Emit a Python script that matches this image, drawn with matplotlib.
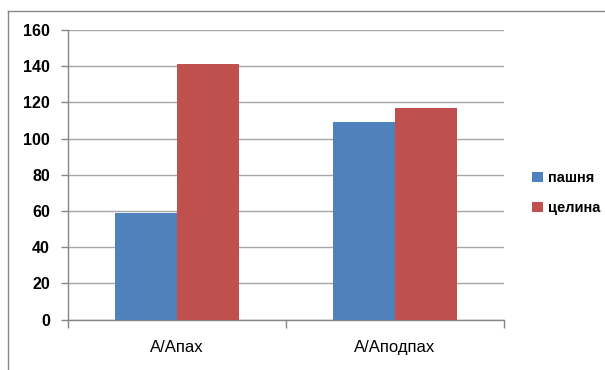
import numpy as np
import matplotlib
matplotlib.use("Agg")
import matplotlib.pyplot as plt
from matplotlib.lines import Line2D
from matplotlib.patches import Patch

plt.rcParams["font.family"] = ["Liberation Sans", "DejaVu Sans"]

categories = ["А/Апах", "А/Аподпах"]
series_names = ["пашня", "целина"]
pashnya = [59, 109]
tselina = [141, 117]
colors = ["#4F81BD", "#C0504D"]
yticks = [0, 20, 40, 60, 80, 100, 120, 140, 160]

W, H = 605, 370
fig = plt.figure(figsize=(W / 100, H / 100), dpi=100)
ax = fig.add_axes([68 / W, 1 - 319.5 / H, (504 - 68) / W, (319.5 - 30) / H])

x = np.arange(len(categories))
bw = 0.286
ax.bar(x - bw / 2, pashnya, bw, color=colors[0], label=series_names[0], zorder=3)
ax.bar(x + bw / 2, tselina, bw, color=colors[1], label=series_names[1], zorder=3)

ax.set_xlim(-0.5, len(categories) - 0.5)
ax.set_ylim(0, 160)
ax.set_yticks(yticks)
ax.set_yticklabels([str(v) for v in yticks], fontweight="bold", fontsize=11.5)
ax.yaxis.grid(True, color="#A6A6A6", lw=1.0, zorder=0)
ax.tick_params(axis="y", length=5, color="#868686", width=1, pad=8)

# category labels sit between boundary tick marks
ax.set_xticks(x)
ax.set_xticklabels(categories, fontsize=12)
ax.tick_params(axis="x", length=0, pad=15)
ax.set_xticks([-0.5, 0.5, 1.5], minor=True)
ax.tick_params(axis="x", which="minor", length=6, color="#868686", width=1)

for side in ("top", "right"):
    ax.spines[side].set_visible(False)
for side in ("left", "bottom"):
    ax.spines[side].set_color("#868686")
    ax.spines[side].set_linewidth(1)

handles = [Patch(facecolor=c, label=n) for c, n in zip(colors, series_names)]
fig.legend(handles=handles, loc="center left", bbox_to_anchor=(519 / W, 1 - 193 / H),
           frameon=False, prop={"weight": "bold", "size": 10.5}, handlelength=0.75,
           handleheight=0.75, handletextpad=0.35, labelspacing=1.1)

# outer chart frame
fig.add_artist(Line2D([8 / W, 8 / W], [0, 1 - 11 / H], color="#868686", lw=1))
fig.add_artist(Line2D([8 / W, 1], [1 - 11 / H, 1 - 11 / H], color="#868686", lw=1))

fig.savefig("out.png", dpi=100)
